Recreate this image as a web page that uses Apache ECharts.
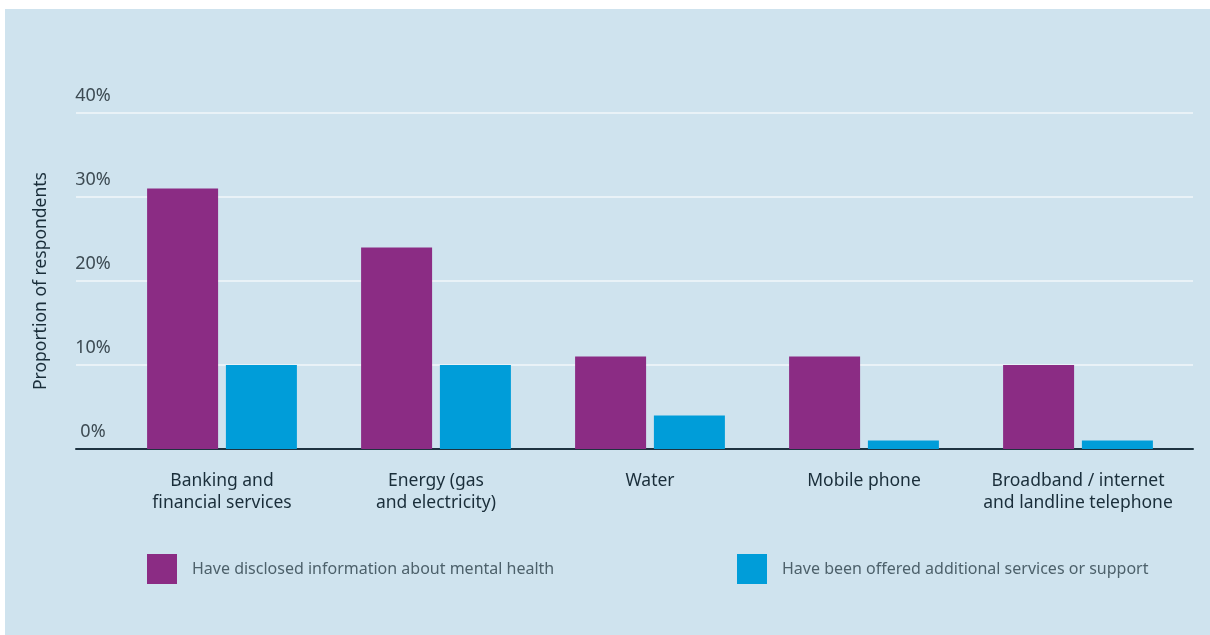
<!DOCTYPE html>
<html><head><meta charset="utf-8">
<script src="https://cdn.jsdelivr.net/npm/echarts@6/dist/echarts.min.js"></script>
<style>
html,body{margin:0;padding:0;background:#fff;}
#panel{position:absolute;left:5px;top:9px;width:1205px;height:626px;background:#cfe3ee;}
#chart{position:absolute;left:0;top:0;width:1210px;height:635px;}
</style></head>
<body><div id="panel"></div><div id="chart"></div>
<script>
const categories = ['Banking and\nfinancial services','Energy (gas\nand electricity)','Water','Mobile phone','Broadband / internet\nand landline telephone'];
const disclosed = [31, 24, 11, 11, 10];
const offered = [10, 10, 4, 1, 1];
const seriesNames = ['Have disclosed information about mental health','Have been offered additional services or support'];
const yTicks = [0, 10, 20, 30, 40];

const font = '"Noto Sans", sans-serif';
const chart = echarts.init(document.getElementById('chart'));
chart.setOption({
  backgroundColor: 'transparent',
  animation: false,
  textStyle: {fontFamily: font},
  grid: [
    {left: 76, right: 17, top: 113, bottom: 186},
    {left: 115, right: 25, top: 113, bottom: 186}
  ],
  legend: [
    {data: [seriesNames[0]], left: 147, top: 554, padding: 0, itemWidth: 30, itemHeight: 30, icon: 'rect',
     textStyle: {fontSize: 16, color: '#4d616b', fontFamily: font, padding: [0,0,0,10]}},
    {data: [seriesNames[1]], left: 737, top: 554, padding: 0, itemWidth: 30, itemHeight: 30, icon: 'rect',
     textStyle: {fontSize: 16, color: '#4d616b', fontFamily: font, padding: [0,0,0,10]}}
  ],
  xAxis: [
    {gridIndex: 0, type: 'category', data: categories,
     axisLine: {lineStyle: {color: '#1e3340', width: 2}}, axisTick: {show: false}, axisLabel: {show: false}},
    {gridIndex: 1, type: 'category', data: categories,
     axisLine: {show: false}, axisTick: {show: false},
     axisLabel: {interval: 0, margin: 21, fontSize: 17.5, lineHeight: 22, color: '#1a2e3a', fontFamily: font}}
  ],
  yAxis: [
    {gridIndex: 0, type: 'value', min: yTicks[0], max: yTicks[yTicks.length-1], interval: 10,
     name: 'Proportion of respondents', nameLocation: 'middle', nameGap: 26, nameRotate: 90,
     nameTextStyle: {fontSize: 17.5, color: '#1a2e3a', fontFamily: font},
     axisLine: {show: false}, axisTick: {show: false},
     splitLine: {lineStyle: {color: '#f2f7fa', width: 1.5}},
     axisLabel: {inside: true, margin: 17, align: 'center', verticalAlign: 'bottom', padding: [0,0,8,0],
       fontSize: 18, color: '#3d4b53', fontFamily: font, formatter: '{value}%'}},
    {gridIndex: 1, type: 'value', min: yTicks[0], max: yTicks[yTicks.length-1], interval: 10, show: false}
  ],
  series: [
    {name: seriesNames[0], type: 'bar', xAxisIndex: 1, yAxisIndex: 1, data: disclosed,
     barWidth: 71, barGap: '11%', itemStyle: {color: '#8b2c84'}},
    {name: seriesNames[1], type: 'bar', xAxisIndex: 1, yAxisIndex: 1, data: offered,
     barWidth: 71, barGap: '11%', itemStyle: {color: '#009dd9'}}
  ]
});
</script></body></html>
